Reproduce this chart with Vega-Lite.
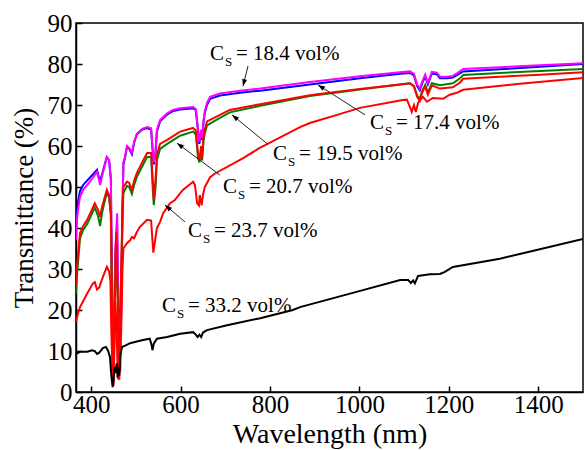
{
  "$schema": "https://vega.github.io/schema/vega-lite/v6.json",
  "width": 507,
  "height": 369,
  "autosize": {"type": "none"},
  "padding": {"left": 76, "top": 23, "right": 2, "bottom": 58},
  "background": "white",
  "config": {
    "view": {"stroke": "black", "strokeWidth": 1.5},
    "font": "Liberation Serif",
    "axis": {
      "domainColor": "black", "domainWidth": 1.5,
      "tickColor": "black", "tickWidth": 1.5, "tickSize": -6,
      "labelFont": "Liberation Serif", "labelFontSize": 25, "labelColor": "black",
      "titleFont": "Liberation Serif", "titleFontSize": 28, "titleFontWeight": "normal", "titleColor": "black",
      "grid": false, "labelOverlap": false
    },
    "axisX": {"labelPadding": 6, "titlePadding": 3},
    "axisY": {"labelPadding": 10, "titlePadding": 9, "titleFontSize": 27}
  },
  "datasets": {
    "s174": [
      {"wl":366,"t":40},{"wl":370,"t":46},{"wl":375,"t":49},{"wl":382,"t":50.5},{"wl":397,"t":52.3},{"wl":413,"t":54.2},{"wl":418,"t":52},{"wl":420,"t":51.5},{"wl":424,"t":53},{"wl":431,"t":55.8},{"wl":435,"t":57.3},{"wl":440,"t":56.5},{"wl":444,"t":52},{"wl":447,"t":20},{"wl":449,"t":4},{"wl":451,"t":14},{"wl":454,"t":33},{"wl":458,"t":41},{"wl":460,"t":22},{"wl":463,"t":10},{"wl":467,"t":18},{"wl":470,"t":44},{"wl":472,"t":55.5},{"wl":476,"t":57.3},{"wl":480,"t":59.8},{"wl":485,"t":59.3},{"wl":491,"t":58},{"wl":496,"t":60.8},{"wl":502,"t":62.8},{"wl":514,"t":64},{"wl":525,"t":64.4},{"wl":534,"t":64},{"wl":537,"t":59.5},{"wl":540,"t":55.5},{"wl":544,"t":58.5},{"wl":547,"t":63.5},{"wl":554,"t":66},{"wl":570,"t":67.7},{"wl":583,"t":68.5},{"wl":599,"t":68.9},{"wl":628,"t":69.2},{"wl":634,"t":68.7},{"wl":639,"t":63.5},{"wl":642,"t":60.5},{"wl":646,"t":63.5},{"wl":648,"t":61.5},{"wl":651,"t":65.5},{"wl":654,"t":68},{"wl":659,"t":70},{"wl":666,"t":71.5},{"wl":688,"t":72.3},{"wl":733,"t":73},{"wl":778,"t":73.5},{"wl":889,"t":75},{"wl":1001,"t":76.5},{"wl":1091,"t":77.6},{"wl":1113,"t":77.8},{"wl":1122,"t":77.2},{"wl":1129,"t":74.6},{"wl":1135,"t":73.6},{"wl":1140,"t":75.2},{"wl":1147,"t":77},{"wl":1153,"t":75},{"wl":1162,"t":77.7},{"wl":1173,"t":77.5},{"wl":1180,"t":76.5},{"wl":1196,"t":76.5},{"wl":1209,"t":76.7},{"wl":1218,"t":77.3},{"wl":1232,"t":78.2},{"wl":1314,"t":78.7},{"wl":1404,"t":79.3},{"wl":1500,"t":80}
    ],
    "s184": [
      {"wl":366,"t":37},{"wl":368,"t":42},{"wl":370,"t":44},{"wl":375,"t":47.6},{"wl":382,"t":49.3},{"wl":397,"t":51.3},{"wl":413,"t":53.7},{"wl":418,"t":51.5},{"wl":420,"t":50.5},{"wl":424,"t":52.5},{"wl":431,"t":55.5},{"wl":435,"t":57.3},{"wl":440,"t":56.5},{"wl":444,"t":52},{"wl":447,"t":20},{"wl":449,"t":5},{"wl":451,"t":15},{"wl":454,"t":35},{"wl":458,"t":43.6},{"wl":460,"t":25},{"wl":463,"t":12},{"wl":467,"t":20},{"wl":470,"t":45},{"wl":472,"t":56},{"wl":476,"t":57.5},{"wl":480,"t":60},{"wl":485,"t":59.5},{"wl":491,"t":58.3},{"wl":496,"t":61},{"wl":502,"t":63},{"wl":514,"t":64.2},{"wl":525,"t":64.6},{"wl":534,"t":64.3},{"wl":537,"t":60},{"wl":540,"t":56},{"wl":544,"t":59},{"wl":547,"t":64},{"wl":554,"t":66.3},{"wl":570,"t":68},{"wl":583,"t":68.8},{"wl":599,"t":69.2},{"wl":628,"t":69.5},{"wl":634,"t":69},{"wl":639,"t":64},{"wl":642,"t":61},{"wl":646,"t":64},{"wl":648,"t":62},{"wl":651,"t":66},{"wl":654,"t":68.5},{"wl":659,"t":70.5},{"wl":666,"t":72},{"wl":688,"t":72.8},{"wl":733,"t":73.5},{"wl":778,"t":74},{"wl":889,"t":75.6},{"wl":1001,"t":77},{"wl":1091,"t":78},{"wl":1113,"t":78.2},{"wl":1122,"t":77.6},{"wl":1129,"t":75},{"wl":1135,"t":74},{"wl":1140,"t":75.6},{"wl":1147,"t":77.4},{"wl":1153,"t":75.4},{"wl":1162,"t":78.1},{"wl":1173,"t":77.9},{"wl":1180,"t":76.9},{"wl":1196,"t":76.9},{"wl":1209,"t":77.1},{"wl":1218,"t":77.7},{"wl":1232,"t":78.8},{"wl":1314,"t":79.2},{"wl":1404,"t":79.7},{"wl":1500,"t":80.2}
    ],
    "s207": [
      {"wl":366,"t":24},{"wl":368,"t":28},{"wl":370,"t":31},{"wl":375,"t":37.5},{"wl":382,"t":39.5},{"wl":391,"t":41},{"wl":408,"t":45},{"wl":415,"t":43},{"wl":420,"t":40.5},{"wl":424,"t":43.5},{"wl":429,"t":46},{"wl":435,"t":48.5},{"wl":440,"t":47.5},{"wl":444,"t":43},{"wl":447,"t":18},{"wl":449,"t":3},{"wl":451,"t":10},{"wl":454,"t":28},{"wl":456,"t":37},{"wl":459,"t":24},{"wl":461,"t":18},{"wl":463,"t":20},{"wl":465,"t":20},{"wl":468,"t":33},{"wl":470,"t":43},{"wl":472,"t":48.5},{"wl":480,"t":50.3},{"wl":485,"t":50},{"wl":491,"t":48.3},{"wl":496,"t":50.5},{"wl":502,"t":52.4},{"wl":514,"t":55},{"wl":525,"t":57.3},{"wl":534,"t":57.3},{"wl":537,"t":51},{"wl":540,"t":45.6},{"wl":544,"t":50},{"wl":547,"t":56.5},{"wl":554,"t":59.3},{"wl":570,"t":60.5},{"wl":599,"t":62.5},{"wl":628,"t":63.5},{"wl":634,"t":62.8},{"wl":639,"t":57},{"wl":642,"t":56},{"wl":646,"t":59},{"wl":648,"t":56.5},{"wl":651,"t":61},{"wl":654,"t":63},{"wl":659,"t":65},{"wl":677,"t":66.2},{"wl":710,"t":68.2},{"wl":778,"t":69.8},{"wl":889,"t":72.2},{"wl":1001,"t":73.8},{"wl":1091,"t":75},{"wl":1113,"t":75.3},{"wl":1122,"t":74.6},{"wl":1129,"t":72.3},{"wl":1135,"t":71.5},{"wl":1140,"t":73.3},{"wl":1147,"t":74.9},{"wl":1153,"t":73},{"wl":1162,"t":75.3},{"wl":1180,"t":74.8},{"wl":1209,"t":75.3},{"wl":1225,"t":76.5},{"wl":1232,"t":77.3},{"wl":1314,"t":77.8},{"wl":1404,"t":78.3},{"wl":1500,"t":78.8}
    ],
    "s195": [
      {"wl":366,"t":26},{"wl":368,"t":30},{"wl":370,"t":33},{"wl":375,"t":38.7},{"wl":382,"t":40.5},{"wl":391,"t":42},{"wl":408,"t":46},{"wl":415,"t":44.5},{"wl":420,"t":42.7},{"wl":424,"t":45},{"wl":429,"t":47},{"wl":435,"t":49.3},{"wl":440,"t":48},{"wl":444,"t":43.6},{"wl":447,"t":15},{"wl":449,"t":1.5},{"wl":451,"t":8},{"wl":454,"t":30},{"wl":456,"t":39},{"wl":459,"t":25},{"wl":461,"t":8},{"wl":463,"t":3},{"wl":465,"t":18},{"wl":468,"t":35},{"wl":470,"t":45},{"wl":472,"t":50},{"wl":480,"t":51.3},{"wl":485,"t":51},{"wl":491,"t":49.3},{"wl":496,"t":51.5},{"wl":502,"t":53.4},{"wl":514,"t":56},{"wl":525,"t":58.3},{"wl":534,"t":58.3},{"wl":537,"t":53},{"wl":540,"t":47},{"wl":544,"t":52},{"wl":547,"t":58},{"wl":554,"t":60.5},{"wl":570,"t":61.5},{"wl":599,"t":63.5},{"wl":628,"t":64.4},{"wl":634,"t":63.8},{"wl":639,"t":58},{"wl":642,"t":56.6},{"wl":646,"t":60},{"wl":648,"t":57},{"wl":651,"t":62},{"wl":654,"t":64},{"wl":659,"t":66},{"wl":677,"t":67},{"wl":710,"t":68.8},{"wl":778,"t":70.2},{"wl":889,"t":72.4},{"wl":1001,"t":73.9},{"wl":1091,"t":75},{"wl":1113,"t":75.3},{"wl":1122,"t":74.5},{"wl":1129,"t":72},{"wl":1135,"t":71},{"wl":1140,"t":73},{"wl":1147,"t":74.5},{"wl":1153,"t":72.5},{"wl":1162,"t":74.8},{"wl":1180,"t":74},{"wl":1209,"t":74.3},{"wl":1225,"t":75.5},{"wl":1232,"t":76.4},{"wl":1314,"t":76.9},{"wl":1404,"t":77.4},{"wl":1500,"t":78}
    ],
    "s237": [
      {"wl":366,"t":17},{"wl":370,"t":19},{"wl":375,"t":20.7},{"wl":391,"t":24},{"wl":404,"t":26.5},{"wl":408,"t":26.8},{"wl":413,"t":25},{"wl":418,"t":25.5},{"wl":420,"t":26.2},{"wl":426,"t":28},{"wl":435,"t":30.5},{"wl":440,"t":29.5},{"wl":443,"t":27},{"wl":445,"t":15},{"wl":448,"t":3},{"wl":450,"t":1.5},{"wl":452,"t":12},{"wl":454,"t":22},{"wl":457,"t":15},{"wl":459,"t":5},{"wl":461,"t":3},{"wl":463,"t":12},{"wl":465,"t":5},{"wl":468,"t":20},{"wl":470,"t":30},{"wl":472,"t":35},{"wl":480,"t":36.3},{"wl":487,"t":37},{"wl":491,"t":37.8},{"wl":496,"t":37.5},{"wl":502,"t":39},{"wl":509,"t":40.3},{"wl":525,"t":42},{"wl":534,"t":41.8},{"wl":537,"t":37},{"wl":539,"t":34},{"wl":543,"t":37},{"wl":547,"t":40},{"wl":554,"t":41.5},{"wl":561,"t":43.6},{"wl":576,"t":46},{"wl":587,"t":46.8},{"wl":605,"t":49.3},{"wl":628,"t":51.3},{"wl":632,"t":50.5},{"wl":637,"t":46},{"wl":641,"t":45.5},{"wl":643,"t":48},{"wl":647,"t":45.5},{"wl":650,"t":48},{"wl":654,"t":50},{"wl":659,"t":51},{"wl":666,"t":52.4},{"wl":677,"t":53.3},{"wl":739,"t":57},{"wl":778,"t":59.6},{"wl":800,"t":60.8},{"wl":867,"t":64.6},{"wl":889,"t":65.6},{"wl":950,"t":67.6},{"wl":1001,"t":69.3},{"wl":1097,"t":71.2},{"wl":1106,"t":71.3},{"wl":1113,"t":69.5},{"wl":1117,"t":68.3},{"wl":1122,"t":70},{"wl":1126,"t":68.3},{"wl":1131,"t":70.5},{"wl":1142,"t":72},{"wl":1151,"t":70.8},{"wl":1164,"t":71.7},{"wl":1187,"t":71.5},{"wl":1202,"t":72.5},{"wl":1218,"t":73},{"wl":1232,"t":73.7},{"wl":1359,"t":75.2},{"wl":1500,"t":76.6}
    ],
    "s332": [
      {"wl":366,"t":9.3},{"wl":375,"t":9.8},{"wl":391,"t":9.8},{"wl":402,"t":10.2},{"wl":408,"t":10},{"wl":413,"t":9.3},{"wl":418,"t":9.6},{"wl":426,"t":10.7},{"wl":433,"t":11},{"wl":438,"t":10},{"wl":442,"t":8.5},{"wl":445,"t":4},{"wl":448,"t":1.2},{"wl":450,"t":3},{"wl":452,"t":6},{"wl":454,"t":4.6},{"wl":457,"t":7},{"wl":459,"t":3.5},{"wl":461,"t":6},{"wl":463,"t":4},{"wl":465,"t":9},{"wl":469,"t":11},{"wl":476,"t":11.3},{"wl":487,"t":11.9},{"wl":502,"t":12.3},{"wl":516,"t":12.7},{"wl":531,"t":13},{"wl":535,"t":11.5},{"wl":537,"t":10.2},{"wl":540,"t":11.8},{"wl":547,"t":13},{"wl":570,"t":13.4},{"wl":599,"t":14.2},{"wl":628,"t":14.6},{"wl":634,"t":14},{"wl":638,"t":13.4},{"wl":642,"t":14},{"wl":646,"t":13.4},{"wl":650,"t":14.5},{"wl":659,"t":15.1},{"wl":704,"t":16.3},{"wl":778,"t":18},{"wl":851,"t":20},{"wl":867,"t":20.7},{"wl":979,"t":24},{"wl":1091,"t":27.3},{"wl":1109,"t":27.3},{"wl":1115,"t":26.6},{"wl":1120,"t":27.2},{"wl":1124,"t":26.5},{"wl":1131,"t":28.3},{"wl":1142,"t":28.5},{"wl":1158,"t":28.7},{"wl":1180,"t":28.8},{"wl":1191,"t":29.3},{"wl":1209,"t":30.5},{"wl":1314,"t":32.5},{"wl":1500,"t":37.3}
    ],
    "labels": [
      {"wl":665.7,"t":81.0,"rest":" = 18.4 vol%"},
      {"wl":1023.6,"t":64.2,"rest":" = 17.4 vol%"},
      {"wl":806.6,"t":56.6,"rest":" = 19.5 vol%"},
      {"wl":694.8,"t":48.5,"rest":" = 20.7 vol%"},
      {"wl":616.5,"t":37.8,"rest":" = 23.7 vol%"},
      {"wl":558.3,"t":19.5,"rest":" = 33.2 vol%"}
    ],
    "arrows": [
      {"wl0":750.7,"t0":79.5,"wl":739.5,"t":74.6},
      {"wl0":1012.4,"t0":67.6,"wl":907.3,"t":74.9},
      {"wl0":795.4,"t0":60.4,"wl":714.9,"t":67.6},
      {"wl0":688.1,"t0":52.9,"wl":591.9,"t":60.7},
      {"wl0":609.8,"t0":41.5,"wl":565.1,"t":45.6}
    ]
  },
  "encoding": {
    "x": {"field": "wl", "type": "quantitative", "scale": {"domain": [366, 1500], "nice": false, "zero": false},
          "axis": {"title": "Wavelength (nm)", "format": "d", "values": [400, 600, 800, 1000, 1200, 1400]}},
    "y": {"field": "t", "type": "quantitative", "scale": {"domain": [0, 90], "nice": false},
          "axis": {"title": "Transmittance (%)", "format": "d", "values": [0, 10, 20, 30, 40, 50, 60, 70, 80, 90]}}
  },
  "layer": [
    {"data": {"name": "s174"}, "mark": {"type": "line", "color": "#0000ff", "strokeWidth": 2, "clip": true}},
    {"data": {"name": "s184"}, "mark": {"type": "line", "color": "#ff00ff", "strokeWidth": 2, "clip": true}},
    {"data": {"name": "s207"}, "mark": {"type": "line", "color": "#008000", "strokeWidth": 2, "clip": true}},
    {"data": {"name": "s195"}, "mark": {"type": "line", "color": "#ff0000", "strokeWidth": 2, "clip": true}},
    {"data": {"name": "s237"}, "mark": {"type": "line", "color": "#ff0000", "strokeWidth": 2, "clip": true}},
    {"data": {"name": "s332"}, "mark": {"type": "line", "color": "#000000", "strokeWidth": 2, "clip": true}},
    {"data": {"name": "arrows"}, "mark": {"type": "rule", "color": "#222222", "strokeWidth": 1},
     "encoding": {"x2": {"field": "wl0"}, "y2": {"field": "t0"}}},
    {"data": {"name": "arrows"},
     "transform": [{"calculate": "(atan2((datum.wl - datum.wl0) * 0.4471, (datum.t - datum.t0) * 4.1) * 180 / PI + 360) % 360", "as": "ang"}],
     "mark": {"type": "point", "shape": "M0,0L-0.35,1L0.35,1Z", "filled": true, "color": "#000000", "opacity": 1, "size": 196, "strokeWidth": 0},
     "encoding": {"angle": {"field": "ang", "type": "quantitative", "scale": null}}},
    {"data": {"name": "labels"}, "mark": {"type": "text", "text": "C", "align": "left", "baseline": "alphabetic", "font": "Liberation Serif", "fontSize": 21, "color": "black"}},
    {"data": {"name": "labels"}, "mark": {"type": "text", "text": "S", "align": "left", "baseline": "alphabetic", "font": "Liberation Serif", "fontSize": 13, "dx": 15, "dy": 6, "color": "black"}},
    {"data": {"name": "labels"}, "mark": {"type": "text", "align": "left", "baseline": "alphabetic", "font": "Liberation Serif", "fontSize": 21, "dx": 26, "color": "black"},
     "encoding": {"text": {"field": "rest"}}}
  ]
}
